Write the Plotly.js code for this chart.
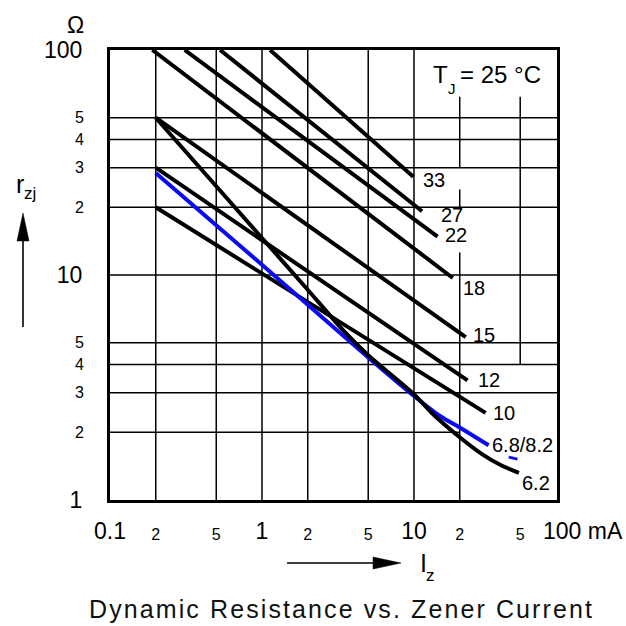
<!DOCTYPE html>
<html><head><meta charset="utf-8">
<script src="https://cdn.plot.ly/plotly-3.0.1.min.js"></script>
<style>
html,body{margin:0;padding:0;background:#fff;}
#chart{width:626px;height:626px;}
.gtitle{letter-spacing:2.1px;}
</style>
</head><body><div id="chart"></div>
<script>
// ---- data (Iz in mA, rzj in ohm) ----
const I_33 = [1.13, 9.9],   R_33 = [100, 27.3];
const I_27 = [0.53, 11.3],  R_27 = [100, 19.2];
const I_22 = [0.31, 14.3],  R_22 = [100, 14.8];
const I_18 = [0.19, 18],    R_18 = [100, 9.7];
const I_15 = [0.2, 21.9],   R_15 = [50, 5.3];
const I_12 = [0.2, 22.5],   R_12 = [30, 3.4];
const I_10 = [0.2, 29.6],   R_10 = [20, 2.44];
const I_68 = [0.2, 1, 5, 10, 15, 20, 31];
const R_68 = [28.4, 11.1, 4.3, 2.9, 2.35, 2.1, 1.75];
const I_68b = [42, 48],     R_68b = [1.55, 1.52];
const I_62 = [0.2, 1, 2, 3.4, 5, 10, 13, 20, 28, 38, 49];
const R_62 = [50, 14.6, 8.6, 5.7, 4.4, 2.95, 2.45, 1.9, 1.6, 1.42, 1.32];
const curveNames = ['33', '27', '22', '18', '15', '12', '10', '6.8/8.2', '6.2'];

// ---- axis ticks ----
const xTicksMajor = [0.1, 1, 10],            xTextMajor = ['0.1', '1', '10'];
const xTicksMinor = [0.2, 0.5, 2, 5, 20, 50], xTextMinor = ['2', '5', '2', '5', '2', '5'];
const yTicksMajor = [1, 10, 100],            yTextMajor = ['1', '10', '100'];
const yTicksMinor = [2, 3, 4, 5, 20, 30, 40, 50], yTextMinor = ['2', '3', '4', '5', '2', '3', '4', '5'];

// ---- grid ----
const xGrid = [0.2, 0.5, 1, 2, 5, 10];
const yGrid = [3, 4, 5, 10, 20, 30, 40, 50];
const xGridPart = [[20, 1, 12.6], [20, 20, 24], [20, 30, 62], [50, 4, 62]];
const yGridPart = [[2, 0.1, 20]];

const FONT = 'Liberation Sans, Arial, Helvetica, sans-serif';
const XMIN = 0.1, XMAX = Math.pow(10, 1.941), YMIN = 1, YMAX = 100;

const traces = [];
// grid lines
const gx = [], gy = [];
xGrid.forEach(v => { gx.push(v, v, null); gy.push(YMIN, YMAX, null); });
yGrid.forEach(v => { gx.push(XMIN, XMAX, null); gy.push(v, v, null); });
xGridPart.forEach(s => { gx.push(s[0], s[0], null); gy.push(s[1], s[2], null); });
yGridPart.forEach(s => { gx.push(s[1], s[2], null); gy.push(s[0], s[0], null); });
traces.push({x: gx, y: gy, mode: 'lines', line: {color: '#000', width: 1.5}, hoverinfo: 'skip'});

const BLUE = '#0a0af5';
const series = [
  [I_33, R_33, '#000', 'linear'], [I_27, R_27, '#000', 'linear'], [I_22, R_22, '#000', 'linear'],
  [I_18, R_18, '#000', 'linear'], [I_15, R_15, '#000', 'linear'], [I_12, R_12, '#000', 'linear'],
  [I_10, R_10, '#000', 'linear'], [I_68, R_68, BLUE, 'spline'], [I_62, R_62, '#000', 'spline']
];
series.forEach(s => traces.push({x: s[0], y: s[1], mode: 'lines',
  line: {color: s[2], width: 4, shape: s[3], smoothing: 0.6}, hoverinfo: 'skip'}));
traces.push({x: I_68b, y: R_68b, mode: 'lines', line: {color: BLUE, width: 2.8}, hoverinfo: 'skip'});
// carrier for the overlaid minor-label axes
traces.push({x: [null], y: [null], xaxis: 'x2', yaxis: 'y2', mode: 'lines', hoverinfo: 'skip'});

// ---- helpers for page-pixel decorations ----
const L = 110, T = 50, W = 447, H = 450;
const px = v => (v - L) / W;
const py = v => (T + H - v) / H;
const note = (x, y, text, size, xa) => ({x: px(x), y: py(y), xref: 'paper', yref: 'paper', text: text,
  showarrow: false, xanchor: xa || 'left', yanchor: 'middle', font: {family: FONT, size: size, color: '#000'}});

// curve labels: shift from the curve end in px
const labelShift = [[8, -3], [17, -4], [5, 2], [8, -10], [5, 2], [8, 0], [5, 0], [1, 0], [1, -10]];
const ends = series.map(s => [s[0][s[0].length - 1], s[1][s[1].length - 1]]);
const annotations = curveNames.map((n, i) => ({
  x: Math.log10(ends[i][0]), y: Math.log10(ends[i][1]), xref: 'x', yref: 'y',
  text: n, showarrow: false, xanchor: 'left', yanchor: 'middle',
  xshift: labelShift[i][0], yshift: labelShift[i][1],
  font: {family: FONT, size: 20, color: '#000'}
}));
annotations.push(
  note(86, 25, 'Ω', 23, 'right'),
  note(14, 184, 'r', 25), note(22, 193, 'zj', 17),
  note(418, 563, 'I', 25), note(424, 575, 'z', 17),
  note(431, 74, 'T', 24), note(446, 88, 'J', 15), note(458, 74, '= 25 °C', 24),
  note(541, 531, '100 mA', 23)
);

const shapes = [
  {type: 'line', xref: 'paper', yref: 'paper', x0: px(23), x1: px(23), y0: py(238), y1: py(327),
   line: {color: '#000', width: 1.6}},
  {type: 'path', xref: 'paper', yref: 'paper',
   path: `M ${px(23)} ${py(213)} L ${px(17)} ${py(241)} L ${px(29)} ${py(241)} Z`,
   fillcolor: '#000', line: {color: '#000', width: 0.5}},
  {type: 'line', xref: 'paper', yref: 'paper', x0: px(287), x1: px(375), y0: py(563), y1: py(563),
   line: {color: '#000', width: 1.6}},
  {type: 'path', xref: 'paper', yref: 'paper',
   path: `M ${px(401)} ${py(563)} L ${px(373)} ${py(557)} L ${px(373)} ${py(569)} Z`,
   fillcolor: '#000', line: {color: '#000', width: 0.5}}
];

const axisBase = {
  type: 'log', showgrid: false, zeroline: false, tickmode: 'array', ticks: 'outside',
  tickcolor: 'rgba(0,0,0,0)', tickangle: 0, fixedrange: true
};
const XR = [-1, 1.941], YR = [0, 2];

const layout = {
  width: 626, height: 626,
  margin: {l: L, r: 626 - L - W, t: T, b: 626 - T - H},
  paper_bgcolor: '#fff', plot_bgcolor: '#fff',
  showlegend: false, hovermode: false,
  xaxis: Object.assign({}, axisBase, {range: XR, tickvals: xTicksMajor, ticktext: xTextMajor,
    ticklen: 8, showline: true, mirror: true, linewidth: 3, linecolor: '#000',
    tickfont: {family: FONT, size: 23, color: '#000'}}),
  yaxis: Object.assign({}, axisBase, {range: YR, tickvals: yTicksMajor, ticktext: yTextMajor,
    ticklen: 20, showline: true, mirror: true, linewidth: 3, linecolor: '#000',
    tickfont: {family: FONT, size: 23, color: '#000'}}),
  xaxis2: Object.assign({}, axisBase, {range: XR, tickvals: xTicksMinor, ticktext: xTextMinor,
    ticklen: 20, overlaying: 'x', anchor: 'y2', side: 'bottom', showline: false,
    tickfont: {family: FONT, size: 16, color: '#000'}}),
  yaxis2: Object.assign({}, axisBase, {range: YR, tickvals: yTicksMinor, ticktext: yTextMinor,
    ticklen: 22, overlaying: 'y', anchor: 'x2', side: 'left', showline: false,
    tickfont: {family: FONT, size: 16, color: '#000'}}),
  title: {text: 'Dynamic Resistance vs. Zener Current', font: {family: FONT, size: 25, color: '#111'},
    x: 341.5 / 626, xref: 'container', xanchor: 'center', y: 1 - 609 / 626, yref: 'container', yanchor: 'middle'},
  annotations: annotations,
  shapes: shapes
};

Plotly.newPlot('chart', traces, layout, {displayModeBar: false, staticPlot: true});
</script>
</body></html>
